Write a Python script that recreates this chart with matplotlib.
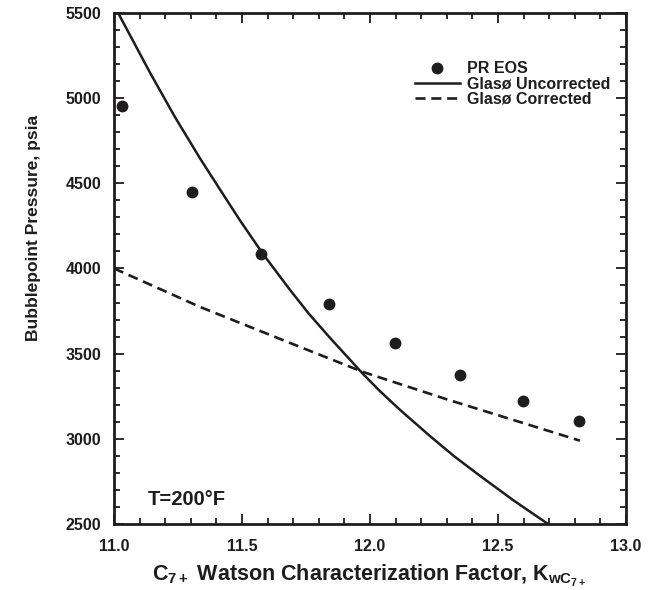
import matplotlib
matplotlib.use("Agg")
import matplotlib.pyplot as plt
from matplotlib.ticker import MultipleLocator, FormatStrFormatter

# fonts: bold Arial-like everywhere, mathtext too
plt.rcParams['font.family'] = ['Liberation Sans', 'DejaVu Sans']
plt.rcParams['font.weight'] = 'bold'
plt.rcParams['axes.labelweight'] = 'bold'
plt.rcParams['mathtext.fontset'] = 'custom'
plt.rcParams['mathtext.rm'] = 'Liberation Sans:bold'
plt.rcParams['mathtext.it'] = 'Liberation Sans:bold'
plt.rcParams['mathtext.bf'] = 'Liberation Sans:bold'

INK = '#1e1c1c'

# PR EOS points
eos_k = [11.03, 11.306, 11.574, 11.839, 12.098, 12.352, 12.599, 12.818]
eos_p = [4956, 4451, 4083, 3791, 3562, 3374, 3222, 3102]

# Glaso uncorrected
unc_k = [11.016, 11.08, 11.141, 11.238, 11.29, 11.336, 11.41, 11.492, 11.582, 11.6875, 11.76,
         11.844, 11.973, 12.04, 12.117, 12.238, 12.33, 12.430, 12.56, 12.695]
unc_p = [5500, 5320, 5148, 4889, 4760, 4646, 4473, 4282, 4085, 3874, 3736,
         3592, 3380, 3278, 3170, 3011, 2896, 2782, 2639, 2500]

# Glaso corrected
cor_k = [11.0, 11.336, 11.727, 11.973, 12.301, 12.820]
cor_p = [4000, 3774, 3539, 3392, 3231, 2989]

fig = plt.figure(figsize=(6.48, 5.90), dpi=100)
ax = fig.add_axes([0.176, 0.112, 0.790, 0.866])

ax.plot(eos_k, eos_p, 'o', color=INK, markersize=7.5, label='PR EOS')
ax.plot(unc_k, unc_p, '-', color=INK, linewidth=1.8, label='Glasø Uncorrected')
ax.plot(cor_k, cor_p, '--', color=INK, linewidth=1.9, dashes=(3.8, 2.2), label='Glasø Corrected')

ax.set_xlim(11.0, 13.0)
ax.set_ylim(2500, 5500)
ax.xaxis.set_major_locator(MultipleLocator(0.5))
ax.xaxis.set_minor_locator(MultipleLocator(0.1))
ax.yaxis.set_major_locator(MultipleLocator(500))
ax.yaxis.set_minor_locator(MultipleLocator(100))
ax.xaxis.set_major_formatter(FormatStrFormatter('%.1f'))

ax.tick_params(which='both', direction='in', top=True, right=True, width=1.3, labelsize=11.5, colors=INK)
ax.tick_params(which='major', length=7)
ax.tick_params(which='minor', length=4)
ax.tick_params(axis='y', which='major', pad=9)
ax.tick_params(axis='x', which='major', pad=11)
for s in ax.spines.values():
    s.set_linewidth(2)
    s.set_color(INK)

ax.set_xlabel('C$_{7+}$ Watson Characterization Factor, K$_{wC_{7+}}$', fontsize=15.5, color=INK)
ax.xaxis.set_label_coords(0.498, -0.076)
ax.xaxis.label.set_va('top')
ax.set_ylabel('Bubblepoint Pressure, psia', fontsize=12.5, color=INK)
ax.yaxis.set_label_coords(-0.143, 0.58)

ax.text(11.133, 2611, 'T=200°F', fontsize=14.5, color=INK)

leg = ax.legend(loc='upper right', bbox_to_anchor=(0.985, 0.921), frameon=False, fontsize=11.5,
                handlelength=2.8, handletextpad=0.45, labelspacing=0.02, borderpad=0)
for t in leg.get_texts():
    t.set_color(INK)

fig.savefig('out.png', dpi=100)
